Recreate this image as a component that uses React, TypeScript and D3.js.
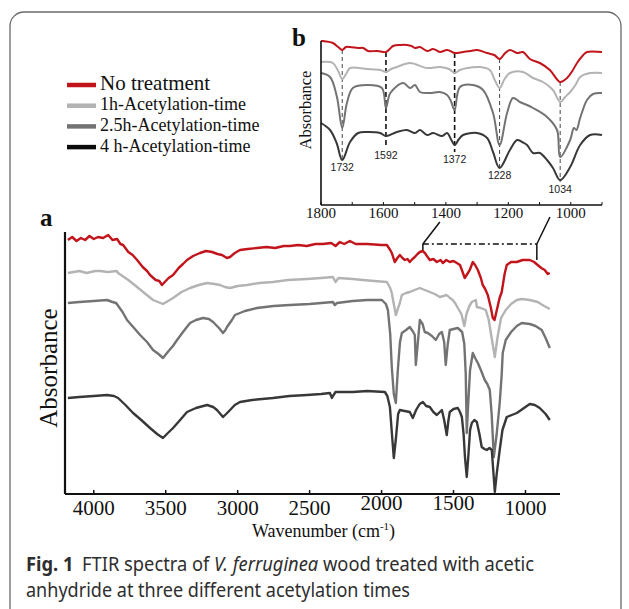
import React from "react";
import * as d3 from "d3";

type Pt = [number, number];

// ---------- series ----------
const seriesNames = [
  "No treatment",
  "1h-Acetylation-time",
  "2.5h-Acetylation-time",
  "4 h-Acetylation-time",
];

// Panel a: [wavenumber (cm-1), absorbance (a.u., offset)]
const mainNoTreatment: Pt[] = [
  [4180, 127], [4150, 128.5], [4120, 126.5], [4090, 128], [4060, 127], [4030, 129], [4000, 127.5],
  [3970, 128.5], [3935, 128], [3900, 129.5], [3870, 127], [3838, 127.5], [3815, 125], [3796, 124.5],
  [3760, 121], [3730, 119.5], [3699, 117], [3660, 113.5], [3630, 111.5], [3609, 109.5], [3570, 107],
  [3545, 106.5], [3526, 104.5], [3500, 106.5], [3480, 108], [3449, 109.5], [3410, 113], [3380, 115],
  [3352, 117], [3310, 119], [3262, 120.5], [3220, 121.5], [3178, 121], [3140, 120], [3109, 119.5],
  [3075, 118], [3053, 118.5], [3020, 120.5], [2984, 122], [2930, 122.5], [2866, 123], [2800, 123.5],
  [2740, 123], [2680, 124], [2637, 124], [2580, 124.5], [2520, 124], [2460, 125], [2408, 125],
  [2350, 125.5], [2320, 124], [2290, 126], [2260, 125], [2220, 126.5], [2180, 125], [2100, 125],
  [2000, 124.5], [1963, 124.5], [1940, 122], [1929, 120.5], [1908, 116], [1890, 118], [1873, 119.5],
  [1855, 118], [1838, 117], [1820, 117.5], [1804, 116], [1785, 117.5], [1769, 118.5], [1750, 120],
  [1734, 121], [1715, 121.5], [1699, 120.5], [1680, 118.5], [1665, 117], [1640, 117.5], [1616, 116],
  [1590, 117], [1574, 115.5], [1550, 117], [1526, 116], [1500, 116.5], [1477, 115.5], [1455, 114.5],
  [1442, 112], [1422, 108], [1400, 110.5], [1387, 112], [1366, 116], [1350, 114.5], [1331, 112],
  [1310, 108], [1297, 104.5], [1280, 102.5], [1262, 99.5], [1240, 93], [1227, 88], [1215, 87],
  [1199, 92], [1180, 98], [1165, 101], [1145, 110], [1130, 114.5], [1100, 116], [1060, 116],
  [1020, 117], [970, 117], [940, 116], [915, 114.5], [890, 113], [866, 112], [845, 110], [831, 110.5],
];

const main1h: Pt[] = [
  [4180, 110.5], [4100, 111.5], [4050, 110.5], [3990, 111.5], [3956, 111.5], [3900, 111], [3840, 111.5],
  [3831, 110.5], [3760, 107], [3699, 103.5], [3640, 100], [3588, 97], [3519, 95], [3449, 98],
  [3390, 101], [3331, 103], [3270, 104.5], [3213, 105.5], [3160, 105], [3123, 104.5], [3090, 103.5],
  [3053, 103], [3000, 104], [2935, 104.5], [2850, 105.5], [2755, 106], [2650, 107], [2519, 107.5],
  [2420, 108], [2338, 108.5], [2320, 106], [2300, 108], [2200, 107.5], [2130, 107], [2050, 106.5],
  [1963, 106], [1940, 103], [1929, 100.5], [1910, 93], [1901, 89.5], [1885, 93], [1873, 95.5],
  [1859, 99.5], [1830, 100.5], [1804, 101], [1770, 102], [1734, 103], [1700, 102], [1665, 101],
  [1630, 100], [1595, 98.5], [1570, 99], [1547, 99.5], [1525, 98], [1505, 97], [1485, 95],
  [1470, 93], [1445, 90], [1425, 84], [1410, 90], [1390, 94], [1373, 96], [1345, 97], [1338, 93.5],
  [1310, 93], [1276, 92], [1255, 87], [1235, 78], [1213, 68.5], [1195, 78], [1170, 88], [1137, 92],
  [1100, 95], [1060, 97], [1026, 97.5], [970, 97], [915, 96], [870, 94], [831, 92.5],
];

const main25h: Pt[] = [
  [4180, 95.5], [4100, 96], [4000, 96.5], [3908, 97], [3870, 96], [3845, 95.5], [3800, 91], [3769, 87],
  [3720, 83], [3678, 79.5], [3630, 76], [3588, 72], [3550, 70], [3519, 68], [3480, 71.5], [3450, 74],
  [3421, 77], [3380, 81], [3331, 85.5], [3290, 87], [3241, 88], [3200, 87.5], [3171, 86], [3130, 83],
  [3102, 80.5], [3085, 82], [3074, 83.5], [3040, 87], [3019, 89.5], [2950, 91.5], [2866, 93],
  [2750, 94], [2637, 94.5], [2500, 95], [2338, 96], [2325, 94.5], [2310, 95.5], [2200, 96.5],
  [2100, 97], [1998, 97], [1970, 95], [1956, 92], [1940, 80], [1929, 63.5], [1915, 50], [1901, 45.5],
  [1887, 62], [1872, 76], [1859, 80.5], [1830, 82], [1804, 83.5], [1780, 81], [1769, 79.5],
  [1762, 64.5], [1750, 74], [1734, 87], [1715, 85], [1700, 81], [1679, 80.5], [1650, 79], [1623, 77],
  [1600, 80], [1581, 81], [1565, 76], [1554, 64.5], [1540, 75], [1526, 82], [1500, 82.5], [1470, 83],
  [1440, 81], [1425, 75], [1415, 60], [1408, 30.5], [1398, 45], [1385, 62], [1366, 70.5], [1350, 68],
  [1331, 65.5], [1310, 62], [1283, 57], [1265, 55], [1248, 52], [1235, 40], [1220, 18.5], [1200, 30],
  [1179, 45.5], [1165, 60], [1158, 70.5], [1137, 77], [1100, 81], [1060, 84], [1026, 85.5], [970, 85],
  [930, 84], [887, 82], [860, 78], [831, 73],
];

const main4h: Pt[] = [
  [4180, 48], [4100, 48.5], [4000, 49], [3908, 49.5], [3860, 49], [3831, 48], [3780, 44.5], [3727, 40.5],
  [3670, 37], [3609, 33], [3560, 30], [3519, 28], [3485, 30.5], [3449, 33], [3400, 37], [3352, 41],
  [3290, 43], [3213, 44.5], [3170, 43.5], [3144, 42], [3120, 40], [3102, 38.5], [3080, 40], [3053, 42],
  [3020, 44.5], [2984, 46], [2900, 47], [2755, 48], [2640, 49], [2519, 49.5], [2420, 50], [2359, 50.5],
  [2345, 48], [2338, 49], [2320, 51], [2200, 51], [2100, 51.5], [1977, 51], [1960, 49], [1942, 43.5],
  [1930, 32], [1915, 18], [1900, 28], [1885, 40], [1873, 42], [1840, 41.5], [1804, 41], [1783, 38],
  [1760, 42], [1735, 45], [1713, 46], [1690, 44], [1665, 43.5], [1640, 41], [1616, 39.5], [1595, 41],
  [1581, 42], [1565, 37], [1547, 29.5], [1535, 37], [1526, 41], [1500, 42.5], [1470, 43], [1455, 41],
  [1442, 38.5], [1430, 30], [1420, 18], [1408, 8.5], [1396, 20], [1385, 32], [1373, 35.5], [1355, 37],
  [1338, 36], [1320, 30], [1304, 23.5], [1285, 22.5], [1269, 22], [1250, 23], [1234, 22], [1222, 10],
  [1213, 1], [1200, 10], [1179, 22], [1160, 32], [1130, 38.5], [1095, 39.5], [1060, 40.5], [1010, 43],
  [970, 45], [935, 44.5], [901, 43], [860, 40], [831, 37],
];

// Panel b (1800–900 cm-1 detail)
const insetNoTreatment: Pt[] = [
  [1800, 82], [1794, 82], [1762, 81], [1745, 79], [1732, 77.5], [1720, 79], [1707, 79], [1681, 78.5],
  [1665, 78.5], [1649, 77], [1620, 77], [1592, 76.5], [1580, 78], [1569, 79.5], [1545, 80], [1525, 80],
  [1510, 79.5], [1499, 78.5], [1483, 79], [1460, 77], [1441, 78], [1419, 76.5], [1396, 77.5], [1372, 76],
  [1345, 76.5], [1320, 77], [1300, 77.5], [1268, 76], [1245, 75], [1228, 73], [1210, 76], [1195, 77.5],
  [1172, 76], [1153, 76.5], [1131, 73], [1099, 71], [1067, 67.5], [1045, 63], [1034, 61.5], [1012, 63.5],
  [995, 67], [980, 71], [960, 75], [948, 76.5], [900, 76.5],
];

const inset1h: Pt[] = [
  [1800, 71.5], [1762, 71], [1745, 67], [1732, 63], [1718, 66], [1707, 68.5], [1653, 68], [1610, 67.5],
  [1592, 66.5], [1575, 68], [1557, 69], [1515, 71], [1460, 68.5], [1419, 69], [1390, 68], [1372, 66],
  [1355, 67.5], [1332, 68.5], [1291, 69], [1259, 67.5], [1245, 63], [1228, 58.5], [1212, 63],
  [1195, 66], [1153, 66.5], [1121, 63.5], [1089, 61.5], [1057, 57.5], [1034, 51.5], [1018, 54],
  [1002, 56.5], [985, 60], [970, 64], [938, 66], [900, 66],
];

const inset25h: Pt[] = [
  [1800, 66], [1771, 64], [1749, 54], [1732, 38.5], [1717, 51], [1698, 58.5], [1653, 60], [1605, 58.5],
  [1592, 48.5], [1578, 56], [1537, 61], [1515, 58.5], [1499, 60], [1483, 56.5], [1451, 56], [1419, 56.5],
  [1396, 55], [1384, 52], [1372, 47.5], [1355, 59], [1313, 60], [1281, 57.5], [1249, 46], [1228, 30],
  [1204, 46], [1185, 53.5], [1163, 51.5], [1140, 50], [1121, 48.5], [1076, 44], [1044, 37.5],
  [1034, 24], [1002, 32.5], [990, 38.5], [982, 37.5], [970, 43.5], [948, 52.5], [929, 55.5], [900, 56],
];

const inset4h: Pt[] = [
  [1800, 41], [1771, 37.5], [1750, 31], [1732, 22.5], [1707, 31.5], [1681, 36], [1653, 36.5], [1611, 36],
  [1592, 34.5], [1557, 36.5], [1525, 37.5], [1499, 36], [1483, 37.5], [1460, 35], [1441, 36],
  [1412, 34.5], [1396, 36], [1384, 33], [1372, 30], [1358, 33], [1345, 35], [1300, 36], [1268, 33.5],
  [1249, 26.5], [1228, 18.5], [1195, 27.5], [1172, 32.5], [1156, 31.5], [1140, 30], [1121, 26],
  [1099, 26], [1076, 22.5], [1057, 18.5], [1034, 12.5], [1002, 19], [970, 30], [938, 35], [900, 35],
];

// ---------- axes / annotations ----------
const mainTickValues = [4000, 3500, 3000, 2500, 2000, 1500, 1000];
const mainRaisedTicks = [2000, 1500];
const insetTickValues = [1800, 1700, 1600, 1500, 1400, 1300, 1200, 1100, 1000, 900];
const insetLabelValues = [1800, 1600, 1400, 1200, 1000];
const peakWavenumbers = [1732, 1592, 1372, 1228, 1034];
const peakTop = [77.5, 76.5, 76, 73, 61.5];
const peakBottom = [22.5, 28.5, 26.5, 18.5, 11.5];
const boldPeaks = [1592, 1372];
const zoomWindow = [1713, 921];
const zoomBracketLevel = 125;
const zoomBracketFeet = [121, 117];
const zoomLeaderTops: Pt[] = [[1595, 136], [830, 138.5]];

const curveColors = ["#c2141b", "#b3b3b3", "#737373", "#383838"];
const legendColors = ["#c2141b", "#b3b3b3", "#737373", "#0a0a0a"];

const SERIF = "'Liberation Serif', 'Times New Roman', serif";
const SANS = "'Noto Sans', 'Open Sans', sans-serif";

export default function App() {
  const W = 629;
  const H = 609;

  const A = { left: 65, right: 560, top: 232, bottom: 494 };
  const xA = d3.scaleLinear().domain([4200, 760]).range([A.left, A.right]);
  const yA = d3.scaleLinear().domain([0, 131]).range([A.bottom, A.top]);
  const lineA = d3.line<Pt>().x((d) => xA(d[0])).y((d) => yA(d[1]));

  const B = { left: 321, right: 602, top: 41, bottom: 205 };
  const xB = d3.scaleLinear().domain([1800, 900]).range([B.left, B.right]);
  const yB = d3.scaleLinear().domain([0, 82]).range([B.bottom, B.top]);
  const lineB = d3
    .line<Pt>()
    .x((d) => xB(d[0]))
    .y((d) => yB(d[1]))
    .curve(d3.curveCatmullRom.alpha(0.5));

  const mainSeries = [mainNoTreatment, main1h, main25h, main4h];
  const insetSeries = [insetNoTreatment, inset1h, inset25h, inset4h];

  const legendX = 67;
  const legendY0 = 85;
  const legendStep = 20.7;

  return (
    <svg
      width={W}
      height={H}
      viewBox={`0 0 ${W} ${H}`}
      style={{ position: "absolute", left: 0, top: 0, background: "#fff" }}
    >
      <rect x={0} y={0} width={W} height={H} fill="#fff" />
      {/* figure frame */}
      <rect x={10} y={12} width={611} height={640} rx={14} ry={14} fill="none" stroke="#6a6a6a" strokeWidth={1.3} />

      {/* legend */}
      {seriesNames.map((n, i) => {
        const y = legendY0 + i * legendStep;
        return (
          <g key={n}>
            <line x1={legendX} x2={legendX + 29} y1={y} y2={y} stroke={legendColors[i]} strokeWidth={4.5} />
            <text
              x={legendX + 33}
              y={y + (i === 0 ? 5 : 4.5)}
              fontFamily={SERIF}
              fontSize={i === 0 ? 21 : 18}
              fill="#111"
            >
              {n}
            </text>
          </g>
        );
      })}

      {/* ---------- panel b ---------- */}
      <text x={292} y={46} fontFamily={SERIF} fontWeight="bold" fontSize={25} fill="#111">
        b
      </text>
      <text
        transform={`translate(311, ${(B.top + B.bottom) / 2 - 13}) rotate(-90)`}
        textAnchor="middle"
        fontFamily={SERIF}
        fontSize={16.5}
        fill="#111"
      >
        Absorbance
      </text>
      {peakWavenumbers.map((p, i) => {
        const bold = boldPeaks.includes(p);
        return (
          <g key={p}>
            <line
              x1={xB(p)}
              x2={xB(p)}
              y1={yB(peakTop[i])}
              y2={yB(peakBottom[i])}
              stroke={bold ? "#111" : "#444"}
              strokeWidth={bold ? 1.6 : 1}
              strokeDasharray={bold ? "5,3" : "4,3"}
            />
            <text
              x={xB(p)}
              y={yB(peakBottom[i]) + 11}
              textAnchor="middle"
              fontFamily="'Liberation Sans', Arial, sans-serif"
              fontSize={10.5}
              fill="#222"
            >
              {p}
            </text>
          </g>
        );
      })}
      {insetSeries.map((s, i) => (
        <path key={i} d={lineB(s) ?? ""} fill="none" stroke={curveColors[i]} strokeWidth={2} strokeLinejoin="round" />
      ))}
      <line x1={B.left} x2={B.left} y1={B.top} y2={B.bottom} stroke="#111" strokeWidth={1.6} />
      <line x1={B.left} x2={B.right} y1={B.bottom} y2={B.bottom} stroke="#111" strokeWidth={1.6} />
      {insetTickValues.map((t) => (
        <line key={t} x1={xB(t)} x2={xB(t)} y1={B.bottom} y2={B.bottom - 3} stroke="#111" strokeWidth={1} />
      ))}
      {insetLabelValues.map((t) => (
        <text key={t} x={xB(t)} y={B.bottom + 13} textAnchor="middle" fontFamily={SERIF} fontSize={15} fill="#111">
          {t}
        </text>
      ))}

      {/* ---------- panel a ---------- */}
      <text x={40} y={226} fontFamily={SERIF} fontWeight="bold" fontSize={25} fill="#111">
        a
      </text>
      <text
        transform={`translate(57, 368) rotate(-90)`}
        textAnchor="middle"
        fontFamily={SERIF}
        fontSize={25}
        fill="#111"
      >
        Absorbance
      </text>

      {/* zoom bracket */}
      <g stroke="#111" strokeWidth={1.5} fill="none">
        <line
          x1={xA(zoomWindow[0])}
          x2={xA(zoomWindow[1])}
          y1={yA(zoomBracketLevel)}
          y2={yA(zoomBracketLevel)}
          strokeDasharray="6,3,2,3"
        />
        <line x1={xA(zoomWindow[0])} x2={xA(zoomWindow[0])} y1={yA(zoomBracketLevel)} y2={yA(zoomBracketFeet[0])} />
        <line x1={xA(zoomWindow[1])} x2={xA(zoomWindow[1])} y1={yA(zoomBracketLevel)} y2={yA(zoomBracketFeet[1])} />
        <line
          x1={xA(zoomWindow[0])}
          x2={xA(zoomLeaderTops[0][0])}
          y1={yA(zoomBracketLevel)}
          y2={yA(zoomLeaderTops[0][1])}
        />
        <line
          x1={xA(zoomWindow[1])}
          x2={xA(zoomLeaderTops[1][0])}
          y1={yA(zoomBracketLevel)}
          y2={yA(zoomLeaderTops[1][1])}
        />
      </g>

      {mainSeries.map((s, i) => (
        <path key={i} d={lineA(s) ?? ""} fill="none" stroke={curveColors[i]} strokeWidth={2.4} strokeLinejoin="round" />
      ))}

      <line x1={A.left} x2={A.left} y1={A.top} y2={A.bottom} stroke="#111" strokeWidth={2.2} />
      <line x1={A.left} x2={A.right} y1={A.bottom} y2={A.bottom} stroke="#111" strokeWidth={2.2} />
      {mainTickValues.map((t) => (
        <g key={t}>
          <line x1={xA(t)} x2={xA(t)} y1={A.bottom} y2={A.bottom - 4} stroke="#111" strokeWidth={1.5} />
          <text
            x={xA(t)}
            y={A.bottom + (mainRaisedTicks.includes(t) ? 16 : 21)}
            textAnchor="middle"
            fontFamily={SERIF}
            fontSize={21}
            fill="#111"
          >
            {t}
          </text>
        </g>
      ))}
      <text x={(A.left + A.right) / 2 + 11} y={537} textAnchor="middle" fontFamily={SERIF} fontSize={18} fill="#111">
        Wavenumber (cm
        <tspan dy={-7} fontSize={11}>
          -1
        </tspan>
        <tspan dy={7}>)</tspan>
      </text>

      {/* caption */}
      <text x={26} y={571} fontFamily={SANS} fontSize={19} fill="#2e2e2e" textLength={508} lengthAdjust="spacingAndGlyphs">
        <tspan fontWeight="bold">Fig. 1</tspan>
        <tspan dx={9}>FTIR spectra of </tspan>
        <tspan fontStyle="italic">V. ferruginea</tspan>
        <tspan> wood treated with acetic</tspan>
      </text>
      <text x={26} y={597} fontFamily={SANS} fontSize={19} fill="#2e2e2e" textLength={384} lengthAdjust="spacingAndGlyphs">
        anhydride at three different acetylation times
      </text>
    </svg>
  );
}
